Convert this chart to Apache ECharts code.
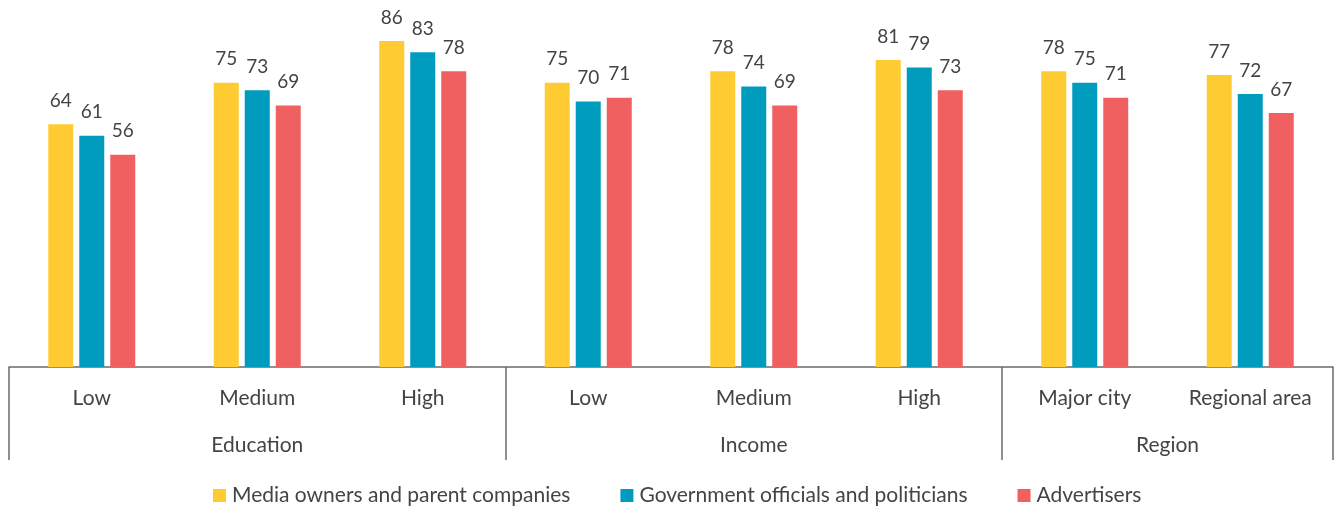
<!DOCTYPE html>
<html>
<head>
<meta charset="utf-8">
<script src="https://cdn.jsdelivr.net/npm/echarts@6/dist/echarts.min.js"></script>
<style>
  html, body { margin: 0; padding: 0; background: #fff; }
  #chart { width: 1338px; height: 508px; }
</style>
</head>
<body>
<div id="chart"></div>
<script>
// Sub-categories along the x axis, and the groups they belong to
const categories = ['Low', 'Medium', 'High', 'Low', 'Medium', 'High', 'Major city', 'Regional area'];
const groupNames = ['Education', 'Income', 'Region'];
const groupSizes = [3, 3, 2];

// Series (percent)
const seriesNames = ['Media owners and parent companies', 'Government officials and politicians', 'Advertisers'];
const mediaOwners = [64, 75, 86, 75, 78, 81, 78, 77];
const government  = [61, 73, 83, 70, 74, 79, 75, 72];
const advertisers = [56, 69, 78, 71, 69, 73, 71, 67];

const colors = ['#FFCB32', '#009CBE', '#F16060'];
const textColor = '#444444';
const lineColor = '#6b6b6b';
const font = 'Lato, "Open Sans", sans-serif';

// group boundaries (in category units) and label centres
const boundaries = [0];
const centers = [];
groupSizes.forEach((n) => {
  const start = boundaries[boundaries.length - 1];
  centers.push(start + n / 2);
  boundaries.push(start + n);
});

const chart = echarts.init(document.getElementById('chart'));

function barSeries(name, data, color) {
  return {
    name: name,
    type: 'bar',
    data: data,
    barWidth: 25,
    barGap: '24%',
    itemStyle: { color: color },
    label: {
      show: true,
      position: 'top',
      distance: 14,
      color: textColor,
      fontFamily: font,
      fontSize: 19
    }
  };
}

chart.setOption({
  animation: false,
  grid: { left: 9, right: 5, top: 3, bottom: 141 },
  legend: {
    top: 480,
    left: 208,
    icon: 'rect',
    itemWidth: 13,
    itemHeight: 13,
    itemGap: 50,
    textStyle: { color: textColor, fontFamily: font, fontSize: 21, padding: [0, 0, 0, 1] },
    data: seriesNames
  },
  xAxis: [
    {
      type: 'category',
      data: categories,
      axisLine: { show: true, lineStyle: { color: lineColor, width: 1.5 } },
      axisTick: { show: false },
      axisLabel: { color: textColor, fontFamily: font, fontSize: 21, margin: 21, interval: 0 }
    },
    {
      type: 'value',
      position: 'bottom',
      min: 0,
      max: categories.length,
      splitLine: { show: false },
      axisLine: { show: false },
      axisTick: {
        show: true,
        customValues: boundaries,
        length: 93,
        lineStyle: { color: lineColor, width: 1.5 }
      },
      axisLabel: {
        customValues: centers,
        color: textColor,
        fontFamily: font,
        fontSize: 21,
        margin: 68,
        formatter: (v) => groupNames[centers.indexOf(v)]
      }
    }
  ],
  yAxis: {
    type: 'value',
    min: 0,
    max: 96,
    show: false,
    splitLine: { show: false }
  },
  series: [
    barSeries(seriesNames[0], mediaOwners, colors[0]),
    barSeries(seriesNames[1], government, colors[1]),
    barSeries(seriesNames[2], advertisers, colors[2])
  ]
});
</script>
</body>
</html>
